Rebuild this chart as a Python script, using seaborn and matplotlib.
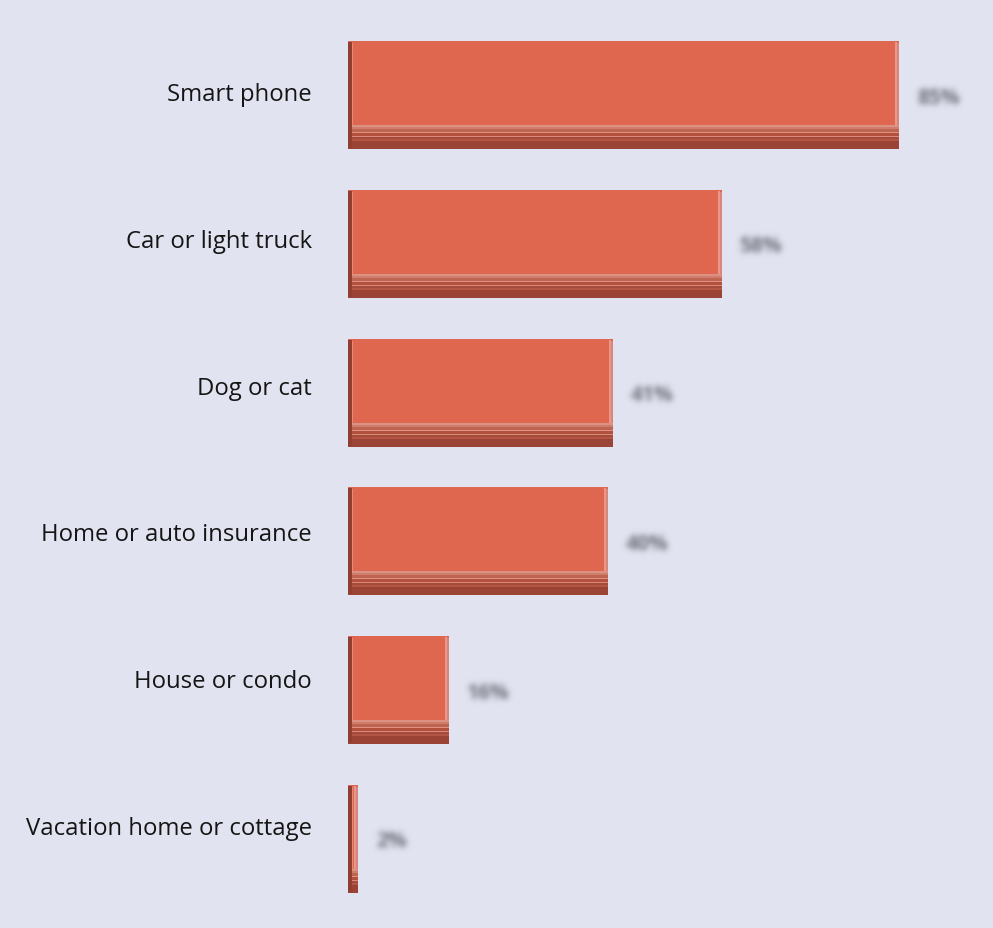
import numpy as np
import pandas as pd
import matplotlib
matplotlib.use("Agg")
import matplotlib.pyplot as plt
import matplotlib.transforms as mtransforms
import seaborn as sns
from matplotlib.patches import Rectangle

# Ownership survey: share of respondents per item (percent)
categories = [
    "Smart phone",
    "Car or light truck",
    "Dog or cat",
    "Home or auto insurance",
    "House or condo",
    "Vacation home or cottage",
]
shares = [85.4, 58.0, 41.1, 40.3, 15.7, 1.6]

BG = "#e1e3f0"
FACE = "#e0674f"
EDGE_DARK = "#8f3e31"
EDGE_LIGHT = "#e8978a"
EDGE_MID = "#d8857a"

sns.set_theme(style="white")
plt.rcParams["font.family"] = ["Open Sans", "DejaVu Sans"]

W, H = 993, 929
fig = plt.figure(figsize=(W / 100, H / 100), dpi=100, facecolor=BG)
ax_left, ax_right = 348, 993
ax_top, ax_bottom = 21.6, 914.4
ax = fig.add_axes([ax_left / W, 1 - ax_bottom / H,
                   (ax_right - ax_left) / W, (ax_bottom - ax_top) / H])

df = pd.DataFrame({"item": categories, "share": shares})
sns.barplot(data=df, x="share", y="item", orient="h", color=FACE,
            saturation=1, width=0.726, edgecolor="none", linewidth=0, ax=ax)

ax.set_xlim(0, 100)
ax.set_ylim(len(categories) - 0.5, -0.5)
ax.set_facecolor(BG)
sns.despine(ax=ax, left=True, bottom=True)
ax.set_xticks([])
ax.set_xlabel("")
ax.set_ylabel("")
ax.tick_params(axis="y", length=0, pad=26, labelsize=17.2, labelcolor="#151515")

# category labels sit a little above their bars, drifting further down the list
for i, lab in enumerate(ax.get_yticklabels()):
    shift = mtransforms.ScaledTranslation(0, (4 + 2 * i) / 100, fig.dpi_scale_trans)
    lab.set_transform(lab.get_transform() + shift)

# data units per screen pixel
px = 100 / (ax_right - ax_left)
py = len(categories) / (ax_bottom - ax_top)


def gaussian_blur(sigma_px, rgb):
    def _filter(img, dpi):
        pad = int(3 * sigma_px) + 2
        a = np.pad(img[:, :, 3], pad)
        r = np.arange(-pad, pad + 1)
        k = np.exp(-0.5 * (r / sigma_px) ** 2)
        k /= k.sum()
        h, w = a.shape
        tmp = np.pad(a, ((0, 0), (pad, pad)))
        out = np.zeros_like(a)
        for i, kv in enumerate(k):
            out += kv * tmp[:, i:i + w]
        tmp = np.pad(out, ((pad, pad), (0, 0)))
        out2 = np.zeros_like(a)
        for i, kv in enumerate(k):
            out2 += kv * tmp[i:i + h, :]
        res = np.zeros((h, w, 4), dtype=img.dtype)
        res[:, :, 0] = rgb[0]
        res[:, :, 1] = rgb[1]
        res[:, :, 2] = rgb[2]
        res[:, :, 3] = np.clip(out2 * 1.1, 0, 1)
        return res, -pad, -pad
    return _filter


# bottom bevel rows, listed from the bar's lower edge upward: (height px, colour)
bevel_rows = [
    (8, "#9b4335"),
    (2, "#b35645"),
    (2, "#a64a3b"),
    (1, "#d98a7a"),
    (3, "#b3513f"),
    (1, "#e09282"),
    (3, "#c06452"),
    (2, "#cf7d6d"),
    (2, "#dc9282"),
]
bevel_h = sum(r[0] for r in bevel_rows)

bars = [p for p in ax.patches if isinstance(p, Rectangle)]
for bar, val in zip(bars, shares):
    x0, w = bar.get_x(), bar.get_width()
    y0, h = bar.get_y(), bar.get_height()
    y1 = y0 + h  # lower edge on screen
    x1 = x0 + w

    # right-hand light edge
    ax.add_patch(Rectangle((x1 - 4 * px, y0 + 1 * py), 2 * px, h - bevel_h * py,
                           color=EDGE_LIGHT, lw=0, zorder=3))
    ax.add_patch(Rectangle((x1 - 2 * px, y0 + 2 * py), 2 * px, h - (bevel_h + 1) * py,
                           color=EDGE_MID, lw=0, zorder=3))

    # bottom bevel stripes
    yb = y1
    for rh, c in bevel_rows:
        ax.add_patch(Rectangle((x0, yb - rh * py), w, rh * py,
                               color=c, lw=0, zorder=3))
        yb -= rh * py

    # left-hand dark edge with a thin highlight
    ax.add_patch(Rectangle((x0, y0 + 1 * py), 4 * px, h - 2 * py,
                           color=EDGE_DARK, lw=0, zorder=4))
    ax.add_patch(Rectangle((x0 + 4 * px, y0 + 2 * py), 1 * px, h - (bevel_h + 2) * py,
                           color="#e88a79", lw=0, zorder=4))

    # blurred value label
    t = ax.text(x1 + 18 * px, y0 + h / 2 + 2 * py, f"{val:.0f}%",
                ha="left", va="center", fontsize=15, fontweight="bold",
                color="#7a7b85", zorder=5)
    t.set_agg_filter(gaussian_blur(3.0, (0.47, 0.48, 0.52)))

fig.savefig("out.png", dpi=100, facecolor=BG)
